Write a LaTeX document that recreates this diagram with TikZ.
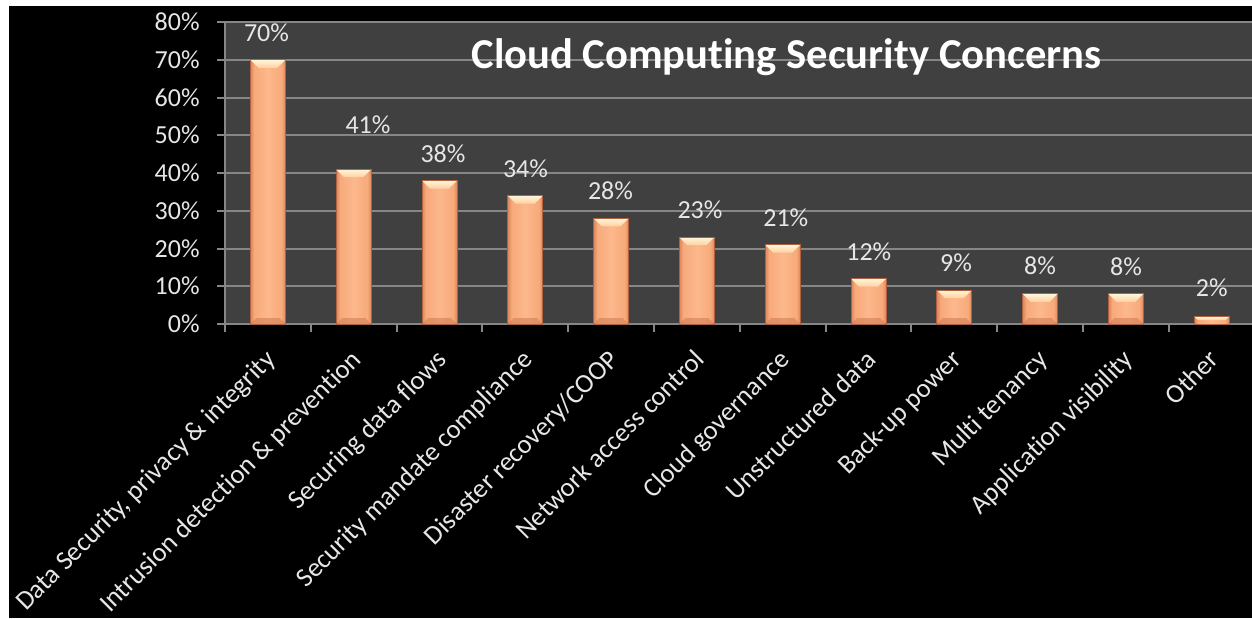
\documentclass[tikz,border=0pt]{standalone}
\usepackage{fontspec}
\setmainfont{Carlito}[Ligatures=NoCommon]
\definecolor{plotbg}{RGB}{64,64,64}
\definecolor{gridgray}{RGB}{134,134,134}
\definecolor{labelgray}{RGB}{230,230,230}
\definecolor{barface}{RGB}{246,166,118}
\definecolor{barmid}{RGB}{252,184,140}
\definecolor{baredge}{RGB}{220,136,94}
\definecolor{bevtop}{RGB}{255,246,218}
\definecolor{bevtopb}{RGB}{253,208,160}
\definecolor{bevbot}{RGB}{212,126,86}
\definecolor{barline}{RGB}{176,98,64}

\begin{document}
\begin{tikzpicture}[x=0.5pt,y=-0.5pt,
  ticklabel/.style={text=labelgray, font=\fontsize{13}{15}\selectfont, inner sep=0pt, anchor=base east},
  datalabel/.style={text=labelgray, font=\fontsize{13}{15}\selectfont, inner sep=0pt, anchor=base},
  catlabel/.style={text=labelgray, font=\fontsize{13.4}{15}\selectfont, inner sep=0pt, rotate=45, anchor=base east},
  titlelabel/.style={text=white, font=\fontsize{21.3}{25}\selectfont\bfseries, inner sep=0pt, anchor=base},
  gridline/.style={draw=gridgray, line width=1pt},
  axisline/.style={draw=gridgray, line width=1pt}]
\useasboundingbox (0,0) rectangle (1252,618);
\fill[white] (0,0) rectangle (1252,618);
\fill[black] (9,6) rectangle (1252,618);

% plot area and gridlines
\fill[plotbg] (225,22) rectangle (1252,324);
\foreach \k in {1,...,8}
  \draw[gridline] (225,{324-37.75*\k}) -- (1252,{324-37.75*\k});

% axes and tick marks
\draw[axisline] (225,22) -- (225,324) -- (1252,324);
\foreach \k in {0,...,8}
  \draw[axisline] (217,{324-37.75*\k}) -- (225,{324-37.75*\k});
\foreach \k in {0,...,11}
  \draw[axisline] ({225+85.8*\k},324) -- ++(0,8);

% value axis labels
\foreach \k/\t in {0/0,1/10,2/20,3/30,4/40,5/50,6/60,7/70,8/80}
  \node[ticklabel] (tick\k) at (200,{324-37.75*\k+8.5}) {\t\%};

% bars with bevelled faces, and their value labels
\foreach \i/\v/\lx/\ly in {0/70/266.5/33.3, 1/41/368/125, 2/38/443/154,
    3/34/525.5/168.7, 4/28/610.5/191.5, 5/23/700/210.5, 6/21/785.8/218,
    7/12/868.8/252, 8/9/956/263.3, 9/8/1040/266.5, 10/8/1126/267.5,
    11/2/1211.7/288.5} {
  \pgfmathsetmacro\cx{267.9+85.8*\i}
  \pgfmathsetmacro\ty{324-3.775*\v}
  \pgfmathsetmacro\bv{min(8,(324-\ty)/2)}
  \shade[left color=barface, right color=barface, middle color=barmid] (\cx-17.5,\ty) rectangle (\cx+17.5,324);
  \shade[left color=baredge, right color=barface] (\cx-17.5,\ty) rectangle (\cx-14,324);
  \shade[left color=barface, right color=baredge] (\cx+14,\ty) rectangle (\cx+17.5,324);
  \ifdim\v pt>5pt
    \fill[bevbot, opacity=0.6] (\cx-17.5,324) -- (\cx+17.5,324) -- (\cx+11.5,318) -- (\cx-11.5,318) -- cycle;
  \fi
  \shade[top color=bevtop, bottom color=bevtopb]
    (\cx-17.5,\ty) -- (\cx+17.5,\ty) -- (\cx+17.5-\bv,\ty+\bv) -- (\cx-17.5+\bv,\ty+\bv) -- cycle;
  \draw[barline, line width=0.4pt] (\cx-17.5,\ty) rectangle (\cx+17.5,324);
  \node[datalabel] (val\i) at (\lx,\ly+8.3) {\v\%};
}

% category labels
\foreach \i/\t in {0/{Data Security, privacy \& integrity}, 1/{Intrusion detection \& prevention},
    2/{Securing data flows}, 3/{Security mandate compliance}, 4/{Disaster recovery/COOP},
    5/{Network access control}, 6/{Cloud governance}, 7/{Unstructured data},
    8/{Back-up power}, 9/{Multi tenancy}, 10/{Application visibility}, 11/{Other}}
  \node[catlabel] (cat\i) at ({267.9+85.8*\i+9},361) {\t};

% chart title
\node[titlelabel] (title) at (786.5,68) {Cloud Computing Security Concerns};
\end{tikzpicture}
\end{document}
